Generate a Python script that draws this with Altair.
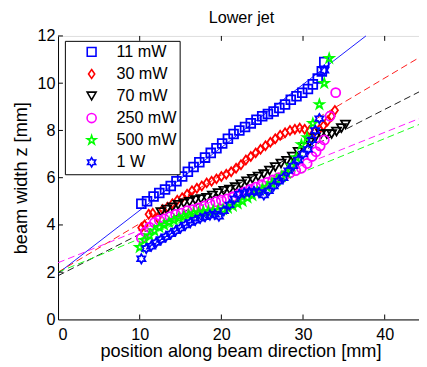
import altair as alt
import pandas as pd

FONT = "Liberation Sans"

series = ["11 mW", "30 mW", "70 mW", "250 mW", "500 mW", "1 W"]
colors = ["#0000ff", "#ff0000", "#000000", "#ff00ff", "#00ff00", "#0000ff"]

x_11 = [10.2, 10.9, 11.7, 12.4, 13.1, 13.8, 14.5, 15.2, 15.9, 16.6, 17.3, 18.0, 18.7, 19.4, 20.1, 20.8, 21.5,
        22.2, 22.9, 23.6, 24.3, 25.0, 25.7, 26.4, 27.1, 27.8, 28.5, 29.2, 29.9, 30.6, 31.2, 31.8, 32.3, 32.6]
y_11 = [4.9, 5.0, 5.2, 5.35, 5.5, 5.65, 5.85, 6.05, 6.25, 6.45, 6.65, 6.85, 7.05, 7.25, 7.45, 7.65, 7.85,
        8.0, 8.15, 8.3, 8.45, 8.6, 8.7, 8.8, 8.95, 9.1, 9.3, 9.45, 9.6, 9.75, 9.95, 10.2, 10.5, 10.9]

x_30 = [10.2, 10.6, 11.1, 11.6, 12.2, 12.8, 13.4, 14.0, 14.6, 15.2, 15.8, 16.4, 17.0, 17.6, 18.2, 18.8, 19.4,
        20.0, 20.6, 21.2, 21.8, 22.4, 23.0, 23.6, 24.2, 24.8, 25.4, 26.0, 26.6, 27.2, 27.8, 28.4, 29.0, 29.6,
        30.2, 30.8, 31.4, 32.0, 32.5, 33.0, 33.5, 33.9]
y_30 = [3.88, 4.0, 4.45, 4.5, 4.3, 4.65, 4.75, 4.9, 5.05, 5.15, 5.3, 5.45, 5.55, 5.65, 5.78, 5.85, 5.95,
        6.05, 6.15, 6.25, 6.4, 6.55, 6.75, 6.9, 7.05, 7.2, 7.35, 7.5, 7.65, 7.8, 7.9, 8.0, 8.05, 8.1,
        8.05, 8.0, 7.95, 8.05, 8.2, 8.4, 8.6, 8.85]

x_70 = [12.6, 13.3, 14.0, 14.7, 15.4, 16.1, 16.8, 17.5, 18.2, 18.9, 19.6, 20.3, 21.0, 21.7, 22.4, 23.1, 23.8,
        24.5, 25.2, 25.9, 26.6, 27.3, 28.0, 28.7, 29.4, 30.1, 30.8, 31.5, 32.2, 32.9, 33.5, 34.1, 34.7, 35.2]
y_70 = [4.55, 4.65, 4.75, 4.85, 4.92, 4.98, 5.05, 5.1, 5.15, 5.25, 5.35, 5.45, 5.5, 5.6, 5.72, 5.85, 5.95,
        6.05, 6.15, 6.3, 6.45, 6.6, 6.72, 6.9, 7.1, 7.3, 7.5, 7.7, 7.85, 7.85, 7.85, 7.95, 8.1, 8.25]

x_250 = [10.2, 10.7, 11.2, 11.8, 12.4, 13.0, 13.7, 14.4, 15.1, 15.8, 16.5, 17.2, 17.9, 18.6, 19.3, 20.0, 20.7,
         21.4, 22.1, 22.8, 23.5, 24.2, 24.9, 25.6, 26.3, 27.0, 27.7, 28.4, 29.1, 29.8, 30.5, 31.1, 31.6, 32.1,
         32.6, 33.3, 34.0]
y_250 = [3.45, 3.7, 3.9, 4.1, 4.2, 4.25, 4.35, 4.45, 4.5, 4.6, 4.65, 4.72, 4.8, 4.9, 4.98, 5.05, 5.1,
         5.2, 5.3, 5.4, 5.5, 5.6, 5.7, 5.8, 5.9, 6.0, 6.1, 6.2, 6.3, 6.4, 6.6, 6.9, 7.1, 7.35,
         7.6, 8.6, 9.6]

x_500 = [10.0, 10.6, 11.2, 11.8, 12.4, 13.0, 13.6, 14.2, 14.8, 15.4, 16.0, 16.6, 17.2, 17.8, 18.4, 19.0, 19.6,
         20.2, 20.8, 21.4, 22.0, 22.6, 23.2, 23.8, 24.4, 25.0, 25.6, 26.2, 26.8, 27.4, 28.0, 28.6, 29.2, 29.8,
         30.5, 31.2, 32.0, 32.6, 33.2]
y_500 = [3.05, 3.35, 3.55, 3.75, 3.9, 4.0, 4.1, 4.2, 4.28, 4.35, 4.42, 4.48, 4.52, 4.56, 4.58, 4.6, 4.62,
         4.65, 4.72, 4.8, 4.9, 5.0, 5.15, 5.25, 5.4, 5.5, 5.6, 5.75, 5.9, 6.05, 6.2, 6.5, 6.85, 7.4,
         7.7, 8.3, 9.1, 10.0, 11.05]

x_1w = [10.2, 10.8, 11.4, 12.0, 12.6, 13.2, 13.8, 14.4, 15.0, 15.6, 16.2, 16.8, 17.4, 18.0, 18.6, 19.2, 19.7,
        20.3, 21.0, 21.6, 22.2, 22.8, 23.4, 24.0, 24.6, 25.2, 25.8, 26.4, 27.0, 27.6, 28.2, 28.8, 29.4, 30.0,
        30.6, 31.1, 31.5, 32.0, 32.6]
y_1w = [2.57, 3.0, 3.1, 3.25, 3.38, 3.5, 3.62, 3.75, 3.87, 4.0, 4.1, 4.2, 4.28, 4.35, 4.42, 4.45, 4.37,
        4.6, 4.85, 5.1, 5.3, 5.35, 5.4, 5.42, 5.38, 5.27, 5.45, 5.65, 5.85, 6.0, 6.3, 6.5, 6.75, 7.0,
        7.2, 7.6, 8.0, 8.5, 10.55]

# linear fits (start / end of each fitted line)
fit_series = ["11 mW", "30 mW", "70 mW", "250 mW", "500 mW"]
fit_x0 = [0.0, 0.0, 0.0, 0.0, 0.0]
fit_y0 = [1.95, 2.0, 1.85, 2.4, 2.0]
fit_x1 = [37.7, 44.2, 44.2, 44.2, 44.2]
fit_y1 = [12.0, 11.08, 9.63, 8.5, 8.25]
fit_dashed = [False, True, True, True, True]

x_ticks = [0, 10, 20, 30, 40]
y_ticks = [0, 2, 4, 6, 8, 10, 12]

PENTAGRAM = ("M0,-1L0.2245,-0.309L0.9511,-0.309L0.3633,0.118L0.5878,0.809L0,0.382"
             "L-0.5878,0.809L-0.3633,0.118L-0.9511,-0.309L-0.2245,-0.309Z")
HEXAGRAM = ("M0,-1L0.2887,-0.5L0.866,-0.5L0.5774,0L0.866,0.5L0.2887,0.5L0,1L-0.2887,0.5"
            "L-0.866,0.5L-0.5774,0L-0.866,-0.5L-0.2887,-0.5Z")
DIAMOND = "M0,-1L0.7,0L0,1L-0.7,0Z"
shapes = ["square", DIAMOND, "triangle-down", "circle", PENTAGRAM, HEXAGRAM]
sizes = [80, 90, 85, 68, 90, 72]

xs = [x_11, x_30, x_70, x_250, x_500, x_1w]
ys = [y_11, y_30, y_70, y_250, y_500, y_1w]
rows = []
for s, xv, yv in zip(series, xs, ys):
    for a, b in zip(xv, yv):
        rows.append({"series": s, "x": a, "y": b})
pts = pd.DataFrame(rows)

W, H = 368, 289
xscale = alt.Scale(domain=[0, 44.2], nice=False, zero=False)
yscale = alt.Scale(domain=[0, 12], nice=False, zero=False)

legend = alt.Legend(
    orient="none", legendX=7, legendY=5, title=None, padding=3,
    strokeColor="black", fillColor="white",
    labelFont=FONT, labelFontSize=16.5, labelColor="black",
    symbolSize=30, symbolStrokeWidth=1.6, symbolOffset=16, labelOffset=17,
    rowPadding=5.5,
)

xaxis = alt.Axis(
    values=x_ticks, ticks=False, grid=False, domainColor="black", labelFontSize=16.5,
    labelPadding=7, title="position along beam direction [mm]", titleFontSize=18.5,
    titleFontWeight="normal", titleFont=FONT,
    titleX=186, titleY=38, titleBaseline="alphabetic", titleAlign="center",
)
yaxis = alt.Axis(
    values=y_ticks, ticks=False, grid=False, domainColor="black", labelFontSize=16.5,
    labelPadding=3, title="beam width z [mm]", titleFontSize=18.5,
    titleFontWeight="normal", titleFont=FONT,
    titleX=-38, titleY=H / 2, titleBaseline="middle", titleAlign="center", titleAngle=-90,
)

layers = []
for s, x0, y0, x1, y1, d in zip(fit_series, fit_x0, fit_y0, fit_x1, fit_y1, fit_dashed):
    df = pd.DataFrame({"x": [x0, x1], "y": [y0, y1]})
    col = colors[series.index(s)]
    kw = {"strokeDash": [7, 4]} if d else {}
    layers.append(
        alt.Chart(df).mark_line(color=col, strokeWidth=0.9, **kw).encode(
            x=alt.X("x:Q", scale=xscale, axis=xaxis),
            y=alt.Y("y:Q", scale=yscale, axis=yaxis),
        )
    )

points = alt.Chart(pts).mark_point(filled=False, strokeWidth=1.8, opacity=1).encode(
    x=alt.X("x:Q", scale=xscale, axis=xaxis),
    y=alt.Y("y:Q", scale=yscale, axis=yaxis),
    color=alt.Color("series:N", scale=alt.Scale(domain=series, range=colors), legend=legend),
    shape=alt.Shape("series:N", scale=alt.Scale(domain=series, range=shapes), legend=legend),
    size=alt.Size("series:N", scale=alt.Scale(domain=series, range=sizes), legend=None),
)
layers.append(points)

xt = pd.DataFrame({"t": x_ticks[1:]})
yt = pd.DataFrame({"t": y_ticks[1:]})
tick_b = alt.Chart(xt).mark_rule(color="black", strokeWidth=1).encode(
    x=alt.X("t:Q", scale=xscale), y=alt.value(H), y2=alt.value(H - 5))
tick_t = alt.Chart(xt).mark_rule(color="black", strokeWidth=1).encode(
    x=alt.X("t:Q", scale=xscale), y=alt.value(0), y2=alt.value(5))
tick_l = alt.Chart(yt).mark_rule(color="black", strokeWidth=1).encode(
    y=alt.Y("t:Q", scale=yscale), x=alt.value(0), x2=alt.value(5))
layers += [tick_b, tick_t, tick_l]

chart = alt.layer(*layers).properties(
    width=W, height=H,
    title=alt.TitleParams("Lower jet", font=FONT, fontSize=16.5, fontWeight="normal",
                          color="black", anchor="middle", dx=3, offset=2),
    padding={"left": 51, "top": 25, "right": 0, "bottom": 45},
    autosize=alt.AutoSizeParams(type="none"),
).configure_view(stroke="#444", strokeWidth=1).configure_axis(
    labelFont=FONT, titleFont=FONT, labelColor="black", titleColor="black",
    titleFontWeight="normal",
).configure_title(fontWeight="normal").configure(background="white")

chart.save("out.html", embed_options={"renderer": "svg", "actions": False})
